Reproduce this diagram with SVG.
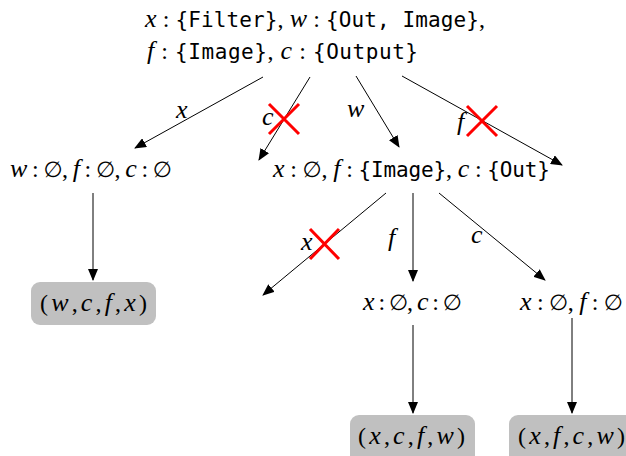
<svg xmlns="http://www.w3.org/2000/svg" width="626" height="456" viewBox="0 0 626 456">
<style>
text{font-family:"Liberation Serif","DejaVu Serif",serif;font-size:24px;fill:#000}
.i{font-style:italic;font-size:26px}
.m{font-family:"DejaVu Sans Mono","Liberation Mono",monospace;font-size:21px}
.e{font-family:"DejaVu Sans","Liberation Sans",sans-serif;font-size:22px}
.leaf{fill:#c0c0c0}
.edge{stroke:#000;stroke-width:1;fill:none;marker-end:url(#ah)}
.cross{stroke:#ff0000;stroke-width:3}
</style>
<defs>
<marker id="ah" markerWidth="12" markerHeight="10" refX="11" refY="5" orient="auto" markerUnits="userSpaceOnUse">
<path d="M0,0 L12,5 L0,10 Z" fill="#000"/>
</marker>
</defs>
<rect width="626" height="456" fill="#fff"/>
<g id="root">
<text x="145" y="27" textLength="340" lengthAdjust="spacing"><tspan class="i">x</tspan> : <tspan class="m">{Filter}</tspan>, <tspan class="i">w</tspan> : <tspan class="m">{Out, Image}</tspan>,</text>
<text x="147" y="59" textLength="271" lengthAdjust="spacing"><tspan class="i">f</tspan> : <tspan class="m">{Image}</tspan>, <tspan class="i">c</tspan> : <tspan class="m">{Output}</tspan></text>
</g>
<g id="n1">
<text x="10" y="177" textLength="162" lengthAdjust="spacing"><tspan class="i">w</tspan> : <tspan class="e">∅</tspan>, <tspan class="i">f</tspan> : <tspan class="e">∅</tspan>, <tspan class="i">c</tspan> : <tspan class="e">∅</tspan></text>
</g>
<g id="n2">
<text x="273" y="177" textLength="277" lengthAdjust="spacing"><tspan class="i">x</tspan> : <tspan class="e">∅</tspan>, <tspan class="i">f</tspan> : <tspan class="m">{Image}</tspan>, <tspan class="i">c</tspan> : <tspan class="m">{Out}</tspan></text>
</g>
<g id="n3">
<text x="363" y="310" textLength="99" lengthAdjust="spacing"><tspan class="i">x</tspan> : <tspan class="e">∅</tspan>, <tspan class="i">c</tspan> : <tspan class="e">∅</tspan></text>
</g>
<g id="n4">
<text x="520" y="310" textLength="103" lengthAdjust="spacing"><tspan class="i">x</tspan> : <tspan class="e">∅</tspan>, <tspan class="i">f</tspan> : <tspan class="e">∅</tspan></text>
</g>
<g id="leaf1">
<rect class="leaf" x="31" y="282" width="125" height="43" rx="9"/>
<text x="40" y="311" textLength="107" lengthAdjust="spacing">(<tspan class="i">w</tspan>,<tspan class="i">c</tspan>,<tspan class="i">f</tspan>,<tspan class="i">x</tspan>)</text>
</g>
<g id="leaf2">
<rect class="leaf" x="350" y="415" width="125" height="50" rx="9"/>
<text x="358" y="444" textLength="107" lengthAdjust="spacing">(<tspan class="i">x</tspan>,<tspan class="i">c</tspan>,<tspan class="i">f</tspan>,<tspan class="i">w</tspan>)</text>
</g>
<g id="leaf3">
<rect class="leaf" x="509" y="415" width="130" height="50" rx="9"/>
<text x="518" y="444" textLength="107" lengthAdjust="spacing">(<tspan class="i">x</tspan>,<tspan class="i">f</tspan>,<tspan class="i">c</tspan>,<tspan class="i">w</tspan>)</text>
</g>
<g id="edges">
<line class="edge" x1="263" y1="77" x2="135" y2="148"/>
<line class="edge" x1="310" y1="77" x2="259" y2="160"/>
<line class="edge" x1="356" y1="76" x2="399" y2="147"/>
<line class="edge" x1="402" y1="76" x2="562" y2="165"/>
<line class="edge" x1="93" y1="193" x2="93" y2="280"/>
<line class="edge" x1="386" y1="193" x2="263" y2="295"/>
<line class="edge" x1="413" y1="193" x2="413" y2="281"/>
<line class="edge" x1="439" y1="193" x2="545" y2="280"/>
<line class="edge" x1="413" y1="325" x2="413" y2="413"/>
<line class="edge" x1="572" y1="318" x2="572" y2="413"/>
<text class="i" x="176" y="118">x</text>
<text class="i" x="262" y="125">c</text>
<text class="i" x="347" y="117">w</text>
<text class="i" x="457" y="130">f</text>
<text class="i" x="301" y="250">x</text>
<text class="i" x="388" y="246">f</text>
<text class="i" x="471" y="243">c</text>
<path class="cross" d="M269,104 L299,134 M299,104 L269,134"/>
<path class="cross" d="M467,106 L497,136 M497,106 L467,136"/>
<path class="cross" d="M310,229 L339,259 M339,229 L310,259"/>
</g>
</svg>
